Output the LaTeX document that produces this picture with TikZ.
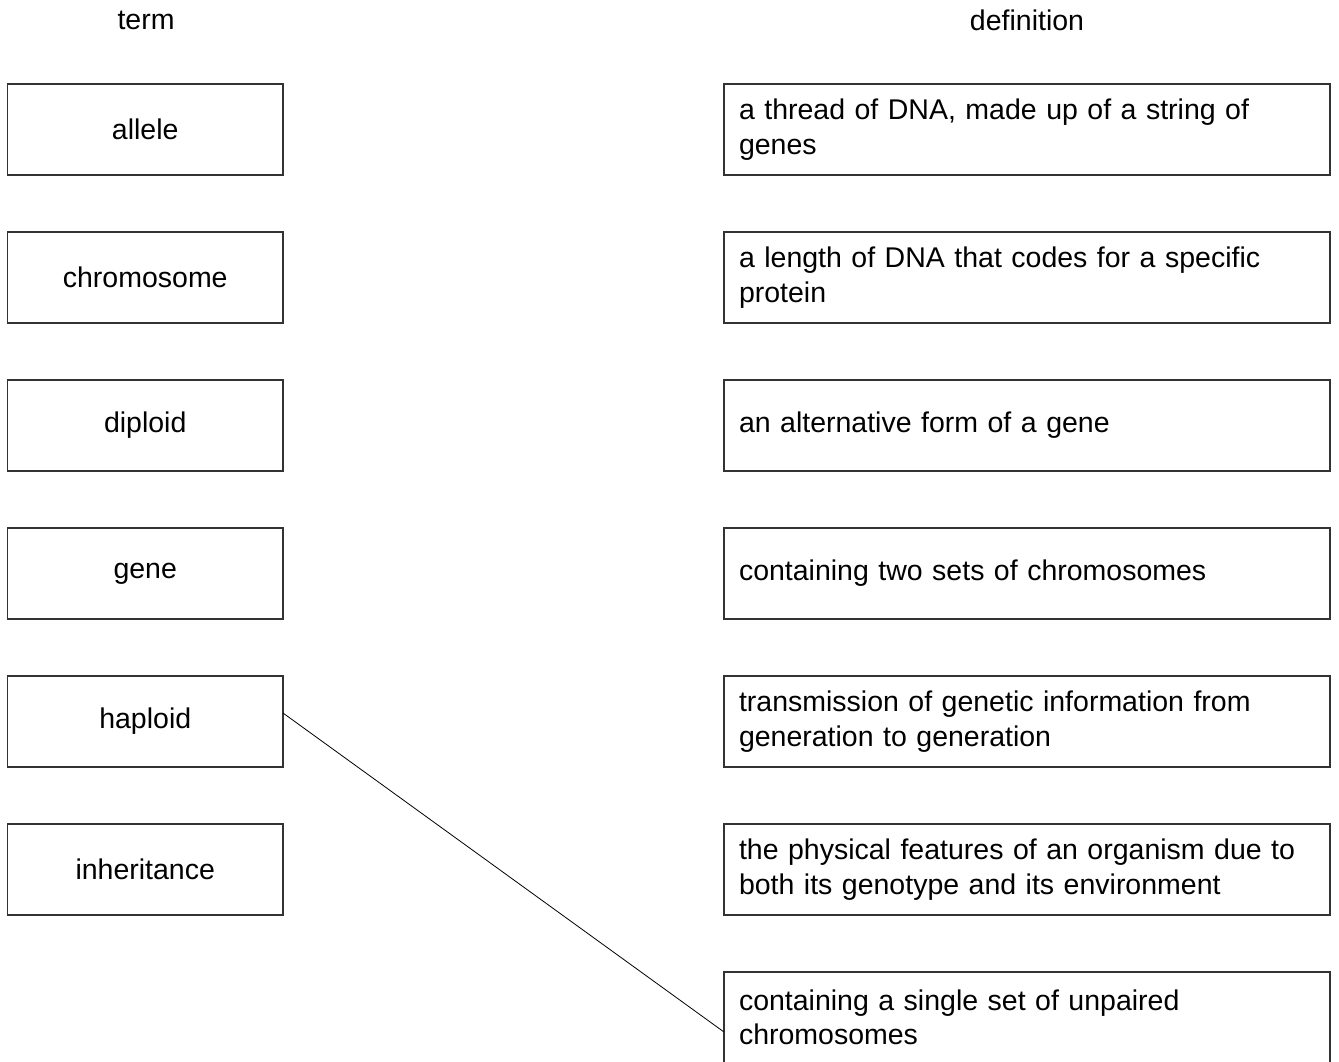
\documentclass[tikz,border=0pt]{standalone}
\usepackage{fontspec}
\setmainfont{Liberation Sans}
\begin{document}
\begin{tikzpicture}[x=1pt,y=-1pt,
  box/.style={draw=black!80,line width=1.2pt,inner sep=0pt,outer sep=0pt},
  term/.style={box,minimum width=275.5pt,minimum height=91pt,anchor=north west,align=center,font=\fontsize{28.5}{34}\selectfont},
  defn/.style={box,minimum width=606pt,minimum height=91pt,anchor=north west,text width=576pt,inner xsep=15pt,align=left,font=\fontsize{28.5}{34.5}\selectfont},
  hdr/.style={font=\fontsize{28.5}{34}\selectfont}]
\useasboundingbox (0,0) rectangle (1339,1061);
\node[hdr] (th) at (146,20) {term};
\node[hdr] (dh) at (1027,20) {definition};
\node[term] (t1) at (7.5,84) {allele};
\node[term] (t2) at (7.5,232) {chromosome};
\node[term] (t3) at (7.5,380) {diploid};
\node[term] (t4) at (7.5,528) {gene};
\node[term] (t5) at (7.5,676) {haploid};
\node[term] (t6) at (7.5,824) {inheritance};
\node[defn] (d1) at (724,84) {a thread of DNA, made up of a string of\\genes};
\node[defn] (d2) at (724,232) {a length of DNA that codes for a specific\\protein};
\node[defn] (d3) at (724,380) {an alternative form of a gene};
\node[defn] (d4) at (724,528) {containing two sets of chromosomes};
\node[defn] (d5) at (724,676) {transmission of genetic information from\\generation to generation};
\node[defn] (d6) at (724,824) {the physical features of an organism due to\\both its genotype and its environment};
\node[defn] (d7) at (724,972) {containing a single set of unpaired\\chromosomes};
\coordinate (a) at (283,713);
\coordinate (b) at (724,1032);
\draw[line width=0.8pt] (a) -- (b);
\end{tikzpicture}
\end{document}
